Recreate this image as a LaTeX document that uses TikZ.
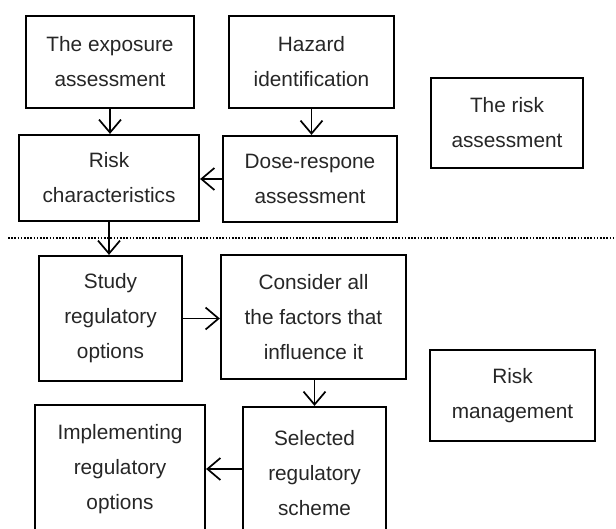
\documentclass[tikz,border=0pt]{standalone}
\usepackage{fontspec}
\setmainfont{Liberation Sans}
\usetikzlibrary{arrows.meta}
\begin{document}
\begin{tikzpicture}[
    x=0.5pt, y=-0.5pt,
    stage/.style={draw, line width=1.1pt, inner sep=0pt, align=center,
      text=black!85},
    flow/.style={-{Straight Barb[length=6.5pt, width=11pt, line width=0.85pt]},
      line width=0.85pt},
    font=\fontsize{10.4}{17.5}\selectfont,
  ]
    \clip (0,0) rectangle (616,529);
    \node[stage, minimum width=84pt, minimum height=46pt] (exposure) at (110,62)
      {The exposure\\assessment};
    \node[stage, minimum width=82.5pt, minimum height=46pt] (hazard) at (311.5,62)
      {Hazard\\identification};
    \node[stage, minimum width=90pt, minimum height=43pt] (riskchar) at (109,178)
      {Risk\\characteristics};
    \node[stage, minimum width=87pt, minimum height=43pt] (dose) at (310,179)
      {Dose-respone\\assessment};
    \node[stage, minimum width=76pt, minimum height=45pt] (assess) at (507,123)
      {The risk\\assessment};
    \node[stage, minimum width=71.5pt, minimum height=62.5pt] (study) at (110.5,318.5)
      {Study\\regulatory\\options};
    \node[stage, minimum width=92.5pt, minimum height=62pt] (consider) at (313.5,317)
      {Consider all\\the factors that\\influence it};
    \node[stage, minimum width=71.5pt, minimum height=66pt] (selected) at (314.5,473)
      {Selected\\regulatory\\scheme};
    \node[stage, minimum width=85pt, minimum height=64pt] (implement) at (120,469)
      {Implementing\\regulatory\\options};
    \node[stage, minimum width=82.5pt, minimum height=45.5pt] (manage) at (512.5,395.5)
      {Risk\\management};
    \coordinate (sepleft) at (8,238);
    \coordinate (sepright) at (616,238);
    \draw[line width=1pt, dash pattern=on 0.8pt off 0.8pt] (sepleft) -- (sepright);
    \draw[flow] (exposure.south) -- (exposure.south |- riskchar.north);
    \draw[flow] (hazard.south) -- (hazard.south |- dose.north);
    \draw[flow] (dose.west) -- (dose.west -| riskchar.east);
    \draw[flow] (riskchar.south) -- (riskchar.south |- study.north);
    \draw[flow] (study.east) -- (study.east -| consider.west);
    \draw[flow] (consider.south -| selected.north) -- (selected.north);
    \draw[flow] (selected.west |- implement.east) -- (implement.east);
  \end{tikzpicture}
\end{document}
